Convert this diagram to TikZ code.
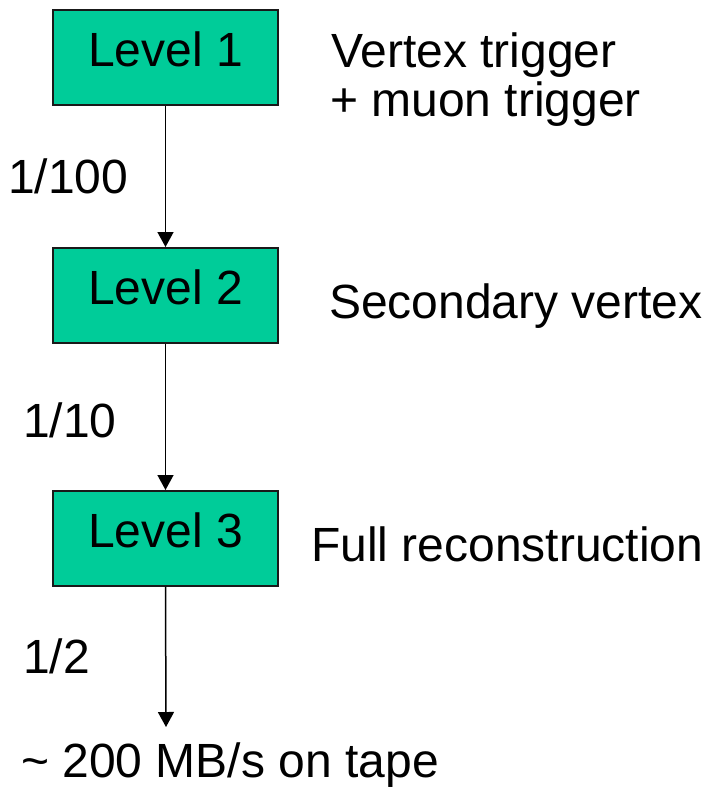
\documentclass[tikz,border=0pt]{standalone}
\usepackage{fontspec}
\setmainfont{Liberation Sans}
\usetikzlibrary{arrows.meta}
\definecolor{boxgreen}{HTML}{00CC99}
\begin{document}
\begin{tikzpicture}[x=1pt,y=-1pt,
  levelbox/.style={draw=black!90,line width=1.5pt,fill=boxgreen,inner sep=0pt,
    minimum width=225pt,text height=57pt,text depth=38pt,
    font=\fontsize{48}{56}\selectfont},
  lbl/.style={anchor=base west,inner sep=0pt,font=\fontsize{48}{50}\selectfont},
  flow/.style={line width=1.5pt,-{Triangle[width=16pt,length=15pt]}}]
\useasboundingbox (0,0) rectangle (709,790);
\node[levelbox,anchor=north] (l1) at (165.5,9) {Level 1};
\node[levelbox,anchor=north] (l2) at (165.5,247) {Level 2};
\node[levelbox,anchor=north] (l3) at (165.5,490) {Level 3};
\coordinate (tape) at (166,727);
\draw[flow] (l1.south) -- (l2.north);
\draw[flow] (l2.south) -- (l3.north);
\draw[flow] (l3.south) -- (tape);
\node[lbl] (t1) at (331,67) {Vertex trigger};
\node[lbl] (t1b) at (330,116) {+ muon trigger};
\node[lbl] (t2) at (329,318) {Secondary vertex};
\node[lbl] (t3) at (311,561) {Full reconstruction};
\node[lbl] (r1) at (8,193) {1/100};
\node[lbl] (r2) at (23,437) {1/10};
\node[lbl] (r3) at (23,673) {1/2};
\node[lbl] (out) at (21,777) {\char`\~{} 200 MB/s on tape};
\end{tikzpicture}
\end{document}
